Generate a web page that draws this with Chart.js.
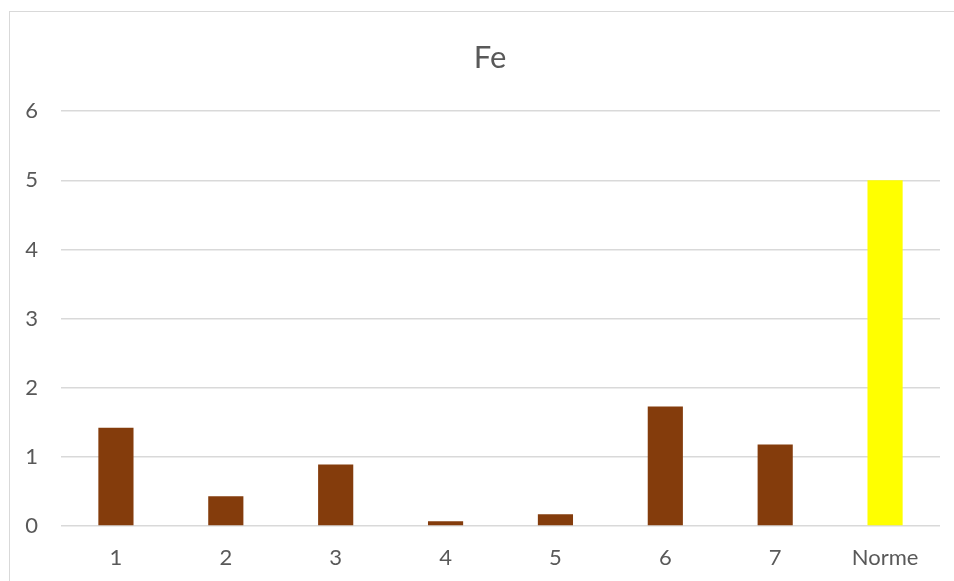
<!DOCTYPE html>
<html>
<head>
<meta charset="utf-8">
<script src="https://cdn.jsdelivr.net/npm/chart.js@4"></script>
<style>
  body { margin: 0; background: #fff; overflow: hidden; }
  #frame { position: absolute; left: 9px; top: 11px; width: 980px; height: 600px; border: 1px solid #d9d9d9; }
  #wrap { position: absolute; left: 0; top: 0; width: 954px; height: 581px; }
</style>
</head>
<body>
<div id="frame"></div>
<div id="wrap"><canvas id="myChart" width="954" height="581"></canvas></div>
<script>
'use strict';
// data
var categories = ['1', '2', '3', '4', '5', '6', '7', 'Norme'];
var feValues = [1.42, 0.43, 0.89, 0.07, 0.17, 1.73, 1.18, 5];
var barColors = ['#843c0c', '#843c0c', '#843c0c', '#843c0c', '#843c0c', '#843c0c', '#843c0c', '#ffff00'];
var yTicks = [0, 1, 2, 3, 4, 5, 6];

var textColor = '#595959';

// nudge the title so it centres like the original
var titleShift = {
  id: 'titleShift',
  afterLayout: function (chart) {
    if (chart.titleBlock) {
      chart.titleBlock.left += 20;
      chart.titleBlock.right += 20;
    }
  }
};

var ctx = document.getElementById('myChart').getContext('2d');
// eslint-disable-next-line no-undef
new Chart(ctx, {
  type: 'bar',
  data: {
    labels: categories,
    datasets: [{
      label: 'Fe',
      data: feValues,
      backgroundColor: barColors,
      borderWidth: 0,
      barPercentage: 0.32,
      categoryPercentage: 1
    }]
  },
  plugins: [titleShift],
  options: {
    responsive: false,
    animation: false,
    layout: { padding: { left: 0, right: 14, top: 0, bottom: 0 } },
    plugins: {
      legend: { display: false },
      tooltip: { enabled: false },
      title: {
        display: true,
        text: 'Fe',
        color: textColor,
        font: { family: 'Lato', size: 31, weight: 'normal' },
        padding: { top: 39, bottom: 35 }
      }
    },
    scales: {
      x: {
        grid: { display: false, drawTicks: false },
        border: { display: false },
        ticks: { color: textColor, font: { family: 'Lato', size: 22 }, padding: 19 },
        afterFit: function (scale) { scale.height = 55; }
      },
      y: {
        min: yTicks[0],
        max: yTicks[yTicks.length - 1],
        grid: { color: '#d9d9d9', lineWidth: 1.5, drawTicks: false },
        border: { display: false },
        ticks: { stepSize: 1, color: textColor, font: { family: 'Lato', size: 22 }, padding: 23 },
        afterFit: function (scale) { scale.width = 61; }
      }
    }
  }
});
</script>
</body>
</html>
